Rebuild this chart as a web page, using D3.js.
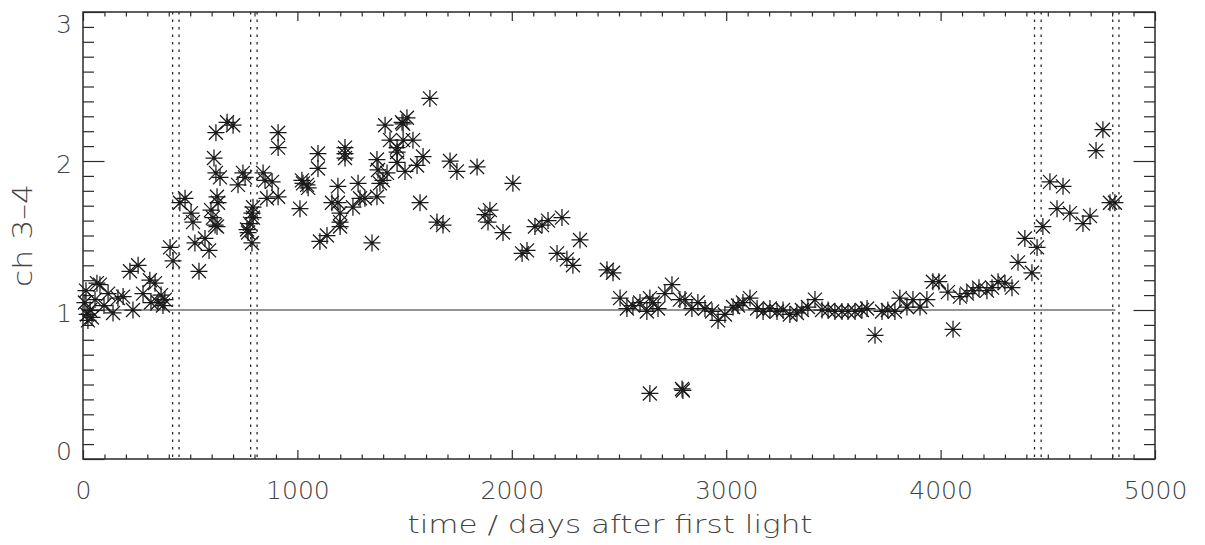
<!DOCTYPE html>
<html>
<head>
<meta charset="utf-8">
<script src="https://cdn.jsdelivr.net/npm/d3@7"></script>
<style>
  html, body { margin: 0; padding: 0; background: #fff; }
  svg { display: block; }
  text { font-family: "DejaVu Sans ExtraLight", "DejaVu Sans", sans-serif; font-weight: 200; fill: #444; }
</style>
</head>
<body>
<svg id="chart" width="1205" height="545"></svg>
<script>
// Observation epochs (days after first light) and channel 3-4 ratio
var DAYS = [
  9, 14, 19, 23, 33, 42, 56, 65, 79, 98, 117, 140, 163, 187, 219, 233, 257, 280, 312, 317, 336, 350, 364, 373, 382,
  406, 420, 452, 476, 504, 513, 522, 541, 569, 588, 597, 606, 611, 616, 620, 620, 625, 625, 630, 639, 672, 700,
  723, 746, 756, 765, 770, 779, 788, 788, 793, 793, 840, 849, 858, 882, 910, 910, 910,
  1012, 1021, 1026, 1045, 1050, 1096, 1096, 1105, 1138, 1161, 1189, 1189, 1199, 1199, 1199, 1222, 1222, 1222,
  1259, 1283, 1292, 1315, 1348, 1371, 1371, 1376, 1385, 1399, 1409, 1418, 1432, 1465, 1465, 1465, 1488, 1493,
  1493, 1502, 1511, 1539, 1558, 1572, 1586, 1618, 1651, 1679, 1712, 1744, 1838, 1875, 1889, 1898, 1959, 2005,
  2048, 2071, 2108, 2141, 2169, 2211, 2234, 2257, 2285, 2318, 2444, 2472, 2505, 2537, 2565, 2598, 2630, 2644,
  2644, 2658, 2682, 2714, 2747, 2784, 2794, 2798, 2808, 2840, 2868, 2901, 2934, 2962, 2994, 3032, 3055, 3078,
  3111, 3144, 3172, 3204, 3237, 3265, 3297, 3330, 3353, 3381, 3414, 3447, 3475, 3507, 3540, 3568, 3601, 3633,
  3657, 3694, 3727, 3754, 3787, 3810, 3843, 3871, 3904, 3936, 3964, 3992, 4034, 4058, 4090, 4123, 4151, 4179,
  4216, 4240, 4268, 4300, 4333, 4361, 4393, 4426, 4450, 4477, 4510, 4543, 4571, 4603, 4664, 4697, 4725, 4757,
  4790, 4813
];
var RATIO = [
  1.05, 1.13, 0.97, 0.93, 1.00, 0.95, 1.07, 1.18, 1.17, 1.03, 1.11, 0.98, 1.08, 1.09, 1.26, 1.00, 1.30, 1.11, 1.20, 1.05, 1.18, 1.05, 1.10, 1.03, 1.07,
  1.42, 1.33, 1.72, 1.75, 1.65, 1.59, 1.45, 1.26, 1.48, 1.40, 1.67, 1.62, 2.02, 1.57, 1.92, 2.19, 1.76, 1.56, 1.72, 1.89, 2.26, 2.24,
  1.84, 1.92, 1.89, 1.54, 1.52, 1.58, 1.45, 1.65, 1.69, 1.62, 1.92, 1.87, 1.75, 1.86, 2.19, 2.09, 1.76,
  1.68, 1.87, 1.85, 1.84, 1.82, 2.05, 1.95, 1.46, 1.50, 1.72, 1.83, 1.72, 1.65, 1.59, 1.56, 2.09, 2.05, 2.02,
  1.69, 1.85, 1.75, 1.75, 1.45, 1.76, 2.01, 1.94, 1.85, 1.87, 2.24, 1.92, 2.14, 2.09, 2.06, 1.99, 2.26, 2.25,
  2.14, 1.93, 2.29, 2.14, 1.97, 1.72, 2.03, 2.42, 1.59, 1.57, 2.00, 1.93, 1.96, 1.64, 1.59, 1.67, 1.52, 1.85,
  1.38, 1.40, 1.56, 1.57, 1.60, 1.38, 1.62, 1.34, 1.30, 1.47, 1.27, 1.25, 1.08, 1.01, 1.03, 1.05, 0.99, 1.08,
  0.44, 1.05, 1.01, 1.11, 1.17, 1.07, 0.47, 0.46, 1.07, 1.01, 1.05, 1.01, 0.99, 0.93, 0.97, 1.02, 1.03, 1.05,
  1.08, 1.01, 0.99, 1.01, 0.99, 1.00, 0.97, 0.98, 1.00, 1.02, 1.07, 1.00, 1.00, 0.99, 0.99, 0.99, 0.99, 1.00,
  1.01, 0.83, 0.99, 1.00, 0.99, 1.08, 1.02, 1.07, 1.02, 1.07, 1.19, 1.19, 1.12, 0.87, 1.09, 1.11, 1.13, 1.15,
  1.13, 1.15, 1.19, 1.18, 1.15, 1.32, 1.48, 1.25, 1.42, 1.56, 1.86, 1.68, 1.83, 1.65, 1.58, 1.63, 2.07, 2.21,
  1.72, 1.72
];
// Dotted markers (days) and the reference level
var EVENT_DAYS = [418, 448, 782, 812, 4438, 4469, 4803, 4832];
var REF_LEVEL = 1;
var REF_END_DAY = 4815;

var X_TICKS = [0, 1000, 2000, 3000, 4000, 5000];
var Y_TICKS = [0, 1, 2, 3];
var X_LABEL = "time / days after first light";
var Y_LABEL = "ch 3\u20134";

(function () {
  "use strict";
  var svg = d3.select("#chart");
  var L = 83, R = 1155, T = 12, B = 459;
  var ink = "#2a2a2a";

  var x = d3.scaleLinear().domain([0, 5000]).range([L, R]);
  var y = d3.scaleLinear().domain([0, 3]).range([B, T]);

  var xMinor = d3.range(0, 5001, 100).filter(function (d) { return d % 1000 !== 0; });
  var yMinor = d3.range(0, 31).map(function (d) { return d / 10; }).filter(function (d) { return d % 1 !== 0; });

  function style(g) {
    g.select(".domain").remove();
    g.selectAll("line").attr("stroke", ink).attr("stroke-width", 1.2);
  }
  function labels(g) {
    g.selectAll("text").style("font-size", "25px").style("font-family", null).attr("fill", "#444");
  }

  // bottom axis: major with labels, minor without
  svg.append("g").attr("transform", "translate(0," + B + ")")
    .call(d3.axisBottom(x).tickValues(X_TICKS).tickSizeInner(-9).tickSizeOuter(0).tickPadding(22).tickFormat(d3.format("d")))
    .call(style).call(labels);
  svg.append("g").attr("transform", "translate(0," + B + ")")
    .call(d3.axisBottom(x).tickValues(xMinor).tickSizeInner(-4.5).tickSizeOuter(0).tickFormat(""))
    .call(style);
  // top axis
  svg.append("g").attr("transform", "translate(0," + T + ")")
    .call(d3.axisTop(x).tickValues(X_TICKS).tickSizeInner(-9).tickSizeOuter(0).tickFormat(""))
    .call(style);
  svg.append("g").attr("transform", "translate(0," + T + ")")
    .call(d3.axisTop(x).tickValues(xMinor).tickSizeInner(-4.5).tickSizeOuter(0).tickFormat(""))
    .call(style);

  // left axis
  svg.append("g").attr("transform", "translate(" + L + ",0)")
    .call(d3.axisLeft(y).tickValues(Y_TICKS).tickSizeInner(-21.5).tickSizeOuter(0).tickPadding(11).tickFormat(d3.format("d")))
    .call(style).call(labels)
    .call(function (g) {
      g.selectAll("text").attr("y", function (d) { return d === 3 ? 12 : d === 0 ? -8 : 3; });
    });
  svg.append("g").attr("transform", "translate(" + L + ",0)")
    .call(d3.axisLeft(y).tickValues(yMinor).tickSizeInner(-11).tickSizeOuter(0).tickFormat(""))
    .call(style);
  // right axis
  svg.append("g").attr("transform", "translate(" + R + ",0)")
    .call(d3.axisRight(y).tickValues(Y_TICKS).tickSizeInner(-21.5).tickSizeOuter(0).tickFormat(""))
    .call(style);
  svg.append("g").attr("transform", "translate(" + R + ",0)")
    .call(d3.axisRight(y).tickValues(yMinor).tickSizeInner(-11).tickSizeOuter(0).tickFormat(""))
    .call(style);

  // frame
  svg.append("rect").attr("x", L).attr("y", T).attr("width", R - L).attr("height", B - T)
    .attr("fill", "none").attr("stroke", ink).attr("stroke-width", 1.5);

  // dotted event lines
  svg.append("g").selectAll("line").data(EVENT_DAYS).join("line")
    .attr("x1", function (d) { return x(d); }).attr("x2", function (d) { return x(d); })
    .attr("y1", T).attr("y2", B)
    .attr("stroke", ink).attr("stroke-width", 1.3).attr("stroke-dasharray", "2.5,5");

  // reference level
  svg.append("line")
    .attr("x1", x(0)).attr("x2", x(REF_END_DAY))
    .attr("y1", y(REF_LEVEL)).attr("y2", y(REF_LEVEL))
    .attr("stroke", ink).attr("stroke-width", 1.1);

  // asterisk markers
  var star = "M-8.5,0H8.5M0,-8.5V8.5M-7,-7L7,7M-7,7L7,-7";
  svg.append("g").selectAll("path").data(DAYS).join("path")
    .attr("transform", function (d, i) { return "translate(" + x(d) + "," + y(RATIO[i]) + ")"; })
    .attr("d", star)
    .attr("fill", "none").attr("stroke", "#1a1a1a").attr("stroke-width", 1.25);

  // axis titles
  svg.append("text")
    .attr("x", 610).attr("y", 533).attr("text-anchor", "middle")
    .attr("textLength", 405).attr("lengthAdjust", "spacingAndGlyphs")
    .style("font-size", "25px").text(X_LABEL);
  svg.append("text")
    .attr("transform", "translate(32," + (T + B) / 2 + ") rotate(-90)")
    .attr("text-anchor", "middle")
    .attr("textLength", 103).attr("lengthAdjust", "spacingAndGlyphs")
    .style("font-size", "27px").text(Y_LABEL);
})();
</script>
</body>
</html>
